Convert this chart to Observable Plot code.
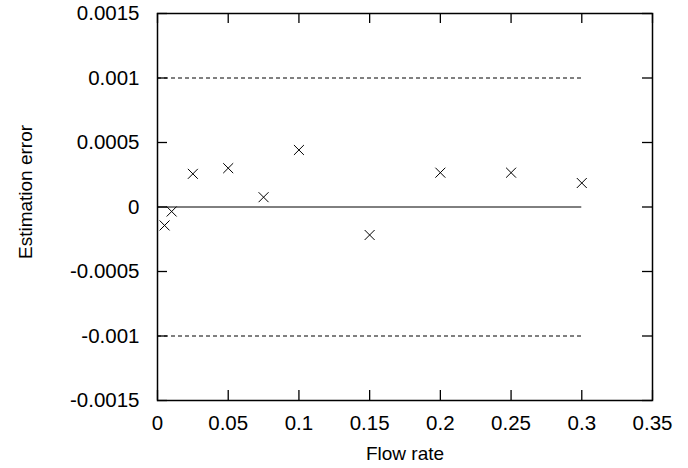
<!DOCTYPE html>
<html>
<head>
<meta charset="utf-8">
<script src="https://cdn.jsdelivr.net/npm/d3@7"></script>
<script src="https://cdn.jsdelivr.net/npm/@observablehq/plot@0.6"></script>
<style>
  html, body { margin: 0; padding: 0; background: #fff; }
  #chart svg { display: block; }
</style>
</head>
<body>
<div id="chart"></div>
<script>
const flowRate = [0.005, 0.01, 0.025, 0.05, 0.075, 0.1, 0.15, 0.2, 0.25, 0.3];
const estimationError = [-0.000143, -0.000035, 0.000257, 0.000301, 0.000076, 0.000442, -0.000217, 0.000266, 0.000266, 0.000186];
const xTicks = [0, 0.05, 0.1, 0.15, 0.2, 0.25, 0.3, 0.35];
const yTicks = [-0.0015, -0.001, -0.0005, 0, 0.0005, 0.001, 0.0015];
const boundLevels = [-0.001, 0.001];
const lineSpan = [0, 0.3];
const xLabel = "Flow rate";
const yLabel = "Estimation error";

const points = flowRate.map((x, i) => ({x, y: estimationError[i]}));
const fmt = d => String(+d.toPrecision(6));

const W = 688, H = 468, ML = 157, MR = 36, MT = 13, MB = 68, TICK = 10;
const innerW = W - ML - MR, innerH = H - MT - MB;
const tickStyle = {stroke: "#000", strokeWidth: 1.3};

const chart = Plot.plot({
  width: W,
  height: H,
  marginLeft: ML,
  marginRight: MR,
  marginTop: MT,
  marginBottom: MB,
  style: {fontFamily: "'Liberation Sans', Arial, sans-serif", fontSize: "19px", color: "#000", background: "#fff"},
  x: {domain: [0, 0.35]},
  y: {domain: [-0.0015, 0.0015]},
  marks: [
    Plot.ruleY(boundLevels, {y: d => d, x1: lineSpan[0], x2: lineSpan[1], stroke: "#000", strokeWidth: 1, strokeDasharray: "4,3"}),
    Plot.ruleY([0], {x1: lineSpan[0], x2: lineSpan[1], stroke: "#000", strokeWidth: 1}),
    // inward ticks on all four sides
    Plot.ruleX(xTicks, {x: d => d, insetTop: innerH - TICK, ...tickStyle}),
    Plot.ruleX(xTicks, {x: d => d, insetBottom: innerH - TICK, ...tickStyle}),
    Plot.ruleY(yTicks, {y: d => d, insetRight: innerW - TICK, ...tickStyle}),
    Plot.ruleY(yTicks, {y: d => d, insetLeft: innerW - TICK, ...tickStyle}),
    Plot.axisX(xTicks, {anchor: "bottom", tickSize: 0, tickPadding: 15, tickFormat: fmt, label: null, fill: "#000", fontSize: 20.5}),
    Plot.axisY(yTicks, {anchor: "left", tickSize: 0, tickPadding: 18, tickFormat: fmt, label: null, fill: "#000", fontSize: 20.5}),
    Plot.frame({stroke: "#000", strokeWidth: 1.5}),
    Plot.dot(points, {x: "x", y: "y", symbol: "times", r: 4.6, stroke: "#000", strokeWidth: 1}),
    Plot.text([xLabel], {frameAnchor: "bottom", dy: 59, fill: "#000", fontSize: 19}),
    Plot.text([yLabel], {frameAnchor: "left", textAnchor: "middle", dx: -132, dy: -15, rotate: -90, fill: "#000", fontSize: 19})
  ]
});
document.getElementById("chart").appendChild(chart);
</script>
</body>
</html>
